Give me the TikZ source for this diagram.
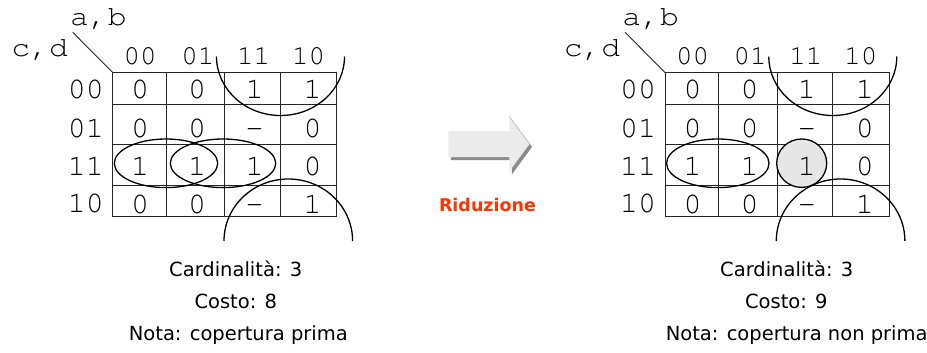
\documentclass[tikz,border=0pt]{standalone}
\usepackage{fontspec}
\setmainfont{DejaVu Sans}
\newfontfamily\cur{TeX Gyre Cursor}
\definecolor{redlabel}{HTML}{FF3300}
\definecolor{cellgray}{HTML}{E6E6E6}
\definecolor{arrowfill}{HTML}{EBEBEB}
\definecolor{arrowshade}{HTML}{8C8C8C}
\definecolor{gridcol}{HTML}{262626}

\tikzset{
  gridline/.style={draw=gridcol, line width=0.9pt},
  loopline/.style={draw=black, line width=1.3pt},
  cell/.style={font=\cur\fontsize{30}{30}\selectfont, inner sep=0pt, anchor=base},
  colhead/.style={font=\cur\fontsize{27.5}{27.5}\selectfont, inner sep=0pt, anchor=base},
  varlab/.style={font=\cur\fontsize{28}{28}\selectfont, inner sep=0pt, anchor=base},
  info/.style={font=\fontsize{19.5}{19.5}\selectfont, inner sep=0pt, anchor=base},
  redux/.style={font=\bfseries\fontsize{17.5}{17.5}\selectfont, text=redlabel, inner sep=0pt, anchor=base},
}

\newcommand\kmgrid{%
  \draw[gridline] (112.7,72.5) rectangle (336.7,216);
  \foreach \gx in {166.5,224.7,280.3} {\draw[gridline] (\gx,72.5) -- (\gx,216);}
  \foreach \gy in {104.3,144.7,185} {\draw[gridline] (112.7,\gy) -- (336.7,\gy);}
}

\newcommand\kmlabels[1]{%
  \node[varlab] (#1-ab) at (98.4,26) {\scalebox{1.12}[1]{a,b}};
  \node[varlab] (#1-cd) at (39.7,56.7) {\scalebox{1.12}[1]{c,d}};
  \coordinate (#1-diagstart) at (72.7,32.3);
  \coordinate (#1-corner) at (112.7,72.5);
  \draw[gridline] (#1-diagstart) -- (#1-corner);
  \node[colhead] (#1-h00) at (140.2,65) {00};
  \node[colhead] (#1-h01) at (197.8,65) {01};
  \node[colhead] (#1-h11) at (253.5,65) {11};
  \node[colhead] (#1-h10) at (308.5,65) {10};
  \node[cell] (#1-v00) at (85.8,98.5) {00};
  \node[cell] (#1-v01) at (85.8,137) {01};
  \node[cell] (#1-v11) at (85.8,175) {11};
  \node[cell] (#1-v10) at (85.8,212.5) {10};
}

\newcommand\kmcells[1]{%
  \node[cell] (#1-a1) at (140.2,98.8) {0};
  \node[cell] (#1-a2) at (197.2,98.8) {0};
  \node[cell] (#1-a3) at (254.5,98.8) {1};
  \node[cell] (#1-a4) at (312.5,98.8) {1};
  \node[cell] (#1-b1) at (140.2,137) {0};
  \node[cell] (#1-b2) at (197.2,137) {0};
  \node[cell] (#1-b3) at (254.5,137) {-};
  \node[cell] (#1-b4) at (312.5,137) {0};
  \node[cell] (#1-c1) at (140.2,175) {1};
  \node[cell] (#1-c2) at (197.2,175) {1};
  \node[cell] (#1-c3) at (254.5,175) {1};
  \node[cell] (#1-c4) at (312.5,175) {0};
  \node[cell] (#1-d1) at (140.2,213) {0};
  \node[cell] (#1-d2) at (197.2,213) {0};
  \node[cell] (#1-d3) at (254.5,213) {-};
  \node[cell] (#1-d4) at (312.5,213) {1};
}

\newcommand\kmarcs{%
  \draw[loopline] (216.5,56.5) arc[start angle=180, end angle=0, x radius=64, y radius=59];
  \draw[loopline] (224,241) arc[start angle=180, end angle=360, x radius=64.3, y radius=62];
}

\begin{document}
\begin{tikzpicture}[x=1pt,y=-1pt]
\useasboundingbox (0,0) rectangle (927,353);

% ---- left map
\begin{scope}
  \kmgrid
  \kmlabels{L}
  \kmcells{L}
  \draw[loopline] (166,163.3) ellipse [x radius=51.7, y radius=24.3];
  \draw[loopline] (223,163.3) ellipse [x radius=52.7, y radius=24.3];
  \kmarcs
\end{scope}
\node[info] (L-card) at (235.7,276.7) {Cardinalità: 3};
\node[info] (L-cost) at (235.8,308.3) {Costo: 8};
\node[info] (L-note) at (238.3,340.7) {Nota: copertura prima};

% ---- arrow
\fill[arrowshade, shift={(2.5,3)}] (448.3,131) -- (509.3,131) -- (509.3,116.5) -- (529.5,144) -- (509.3,171.5) -- (509.3,157) -- (448.3,157) -- cycle;
\fill[arrowfill] (448.3,131) -- (509.3,131) -- (509.3,116.5) -- (529.5,144) -- (509.3,171.5) -- (509.3,157) -- (448.3,157) -- cycle;
\draw[draw=black!25, line width=0.6pt] (509.3,116.5) -- (529.5,144);
\node[redux] (redu) at (487.5,211) {Riduzione};

% ---- right map
\begin{scope}[xshift=552.3pt]
  \kmgrid
  \filldraw[fill=cellgray, loopline] (249.4,163.2) ellipse [x radius=25, y radius=24.2];
  \kmlabels{R}
  \kmcells{R}
  \draw[loopline] (165.5,163.3) ellipse [x radius=51.2, y radius=24.3];
  \kmarcs
\end{scope}
\node[info] (R-card) at (786.7,276.7) {Cardinalità: 3};
\node[info] (R-cost) at (786.3,308.3) {Costo: 9};
\node[info] (R-note) at (796.7,340.7) {Nota: copertura non prima};
\end{tikzpicture}
\end{document}
